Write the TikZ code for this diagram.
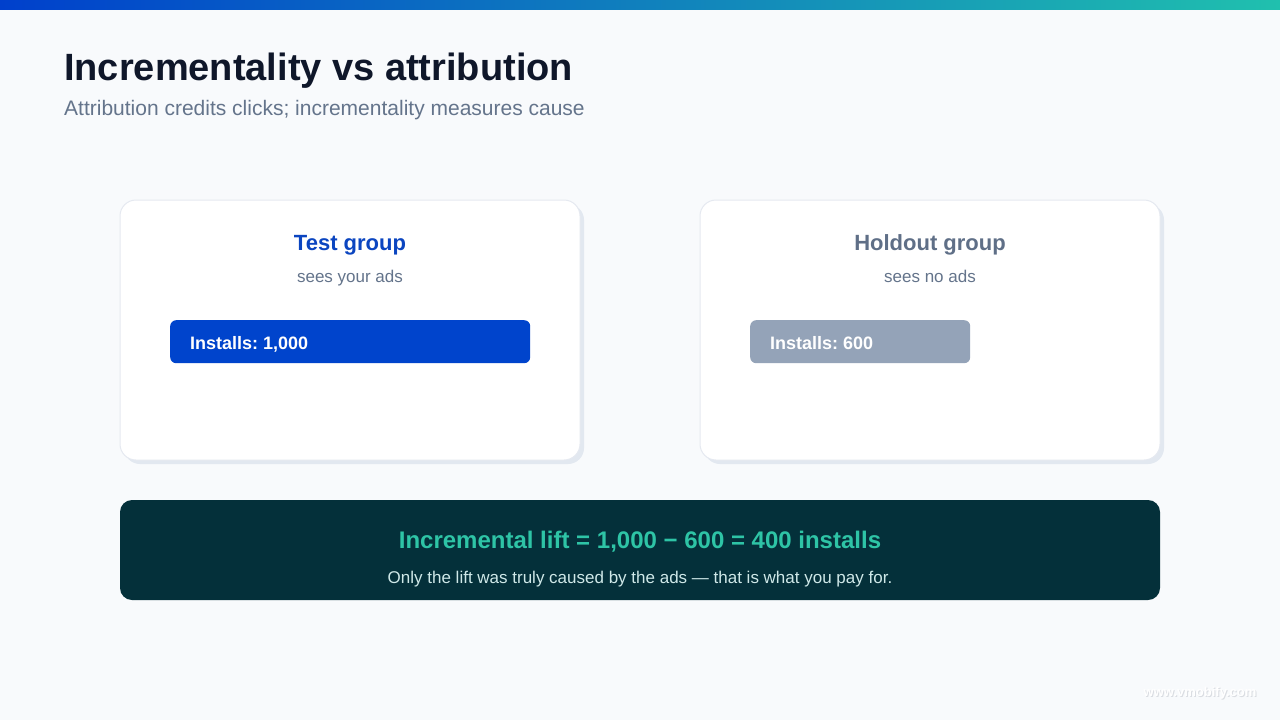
\documentclass[tikz,border=0pt]{standalone}
\usepackage{fontspec}
\setmainfont{Liberation Sans}
\frenchspacing
\definecolor{bg}{HTML}{F8FAFC}
\definecolor{barL}{HTML}{0040CC}
\definecolor{barR}{HTML}{20C0AE}
\definecolor{ttl}{HTML}{0F172A}
\definecolor{sub}{HTML}{64748B}
\definecolor{cardline}{HTML}{E5E9F0}
\definecolor{cardshadow}{HTML}{E2E8F0}
\definecolor{testblue}{HTML}{0B45C0}
\definecolor{barblue}{HTML}{0044CC}
\definecolor{bargray}{HTML}{94A3B8}
\definecolor{holdttl}{HTML}{5F6F87}
\definecolor{darkbox}{HTML}{04303A}
\definecolor{liftteal}{HTML}{2EC4A6}
\definecolor{liftsub}{HTML}{CFE8E8}
\definecolor{wm}{HTML}{DADDE2}
\tikzset{
  card/.style={draw=cardline, line width=1pt, fill=white, rounded corners=16pt, minimum width=460pt, minimum height=260pt, inner sep=0pt},
  cardshade/.style={fill=cardshadow, rounded corners=16pt, minimum width=460pt, minimum height=260pt, inner sep=0pt},
  installbar/.style={rounded corners=6pt, minimum height=43pt, inner sep=0pt, anchor=north west},
  bartext/.style={font=\fontsize{18}{21}\selectfont\bfseries, text=white, anchor=base west, inner sep=0pt},
  grptitle/.style={font=\fontsize{22}{26}\selectfont\bfseries},
  grpsub/.style={font=\fontsize{17}{20}\selectfont, text=sub},
}
\begin{document}
\begin{tikzpicture}[x=1pt,y=-1pt]
\useasboundingbox (0,0) rectangle (1280,720);
\fill[bg] (0,0) rectangle (1280,720);
\shade[left color=barL, right color=barR] (0,0) rectangle (1280,9);
% title
\node[anchor=base west, inner sep=0pt, text=ttl, font=\fontsize{38}{43}\selectfont\bfseries] (title) at (64,80) {Incrementality vs attribution};
\node[anchor=base west, inner sep=0pt, text=sub, font=\fontsize{21}{25}\selectfont] (subtitle) at (64,115) {Attribution credits clicks; incrementality measures cause};
% cards
\node[cardshade] (shA) at (354,334) {};
\node[card] (cardA) at (350,330) {};
\node[cardshade] (shB) at (934,334) {};
\node[card] (cardB) at (930,330) {};
% test group
\node[grptitle, text=testblue, anchor=base] (tA) at (350,250) {Test group};
\node[grpsub, anchor=base] (sA) at (350,282) {sees your ads};
\node[installbar, fill=barblue, minimum width=360pt] (bA) at (170,320) {};
\node[bartext] (iA) at (190,349) {Installs: 1,000};
% holdout group
\node[grptitle, text=holdttl, anchor=base] (tB) at (930,250) {Holdout group};
\node[grpsub, anchor=base] (sB) at (930,282) {sees no ads};
\node[installbar, fill=bargray, minimum width=220pt] (bB) at (750,320) {};
\node[bartext] (iB) at (770,349) {Installs: 600};
% lift box
\node[fill=darkbox, rounded corners=12pt, minimum width=1040pt, minimum height=100pt, inner sep=0pt] (lift) at (640,550) {};
\node[anchor=base, text=liftteal, font=\fontsize{24}{28}\selectfont\bfseries] (liftT) at (640,548) {Incremental lift = 1,000 − 600 = 400 installs};
\node[anchor=base, text=liftsub, font=\fontsize{17}{20}\selectfont] (liftS) at (640,583) {Only the lift was truly caused by the ads — that is what you pay for.};
% watermark
\node[anchor=base, text=wm, font=\fontsize{13}{15}\selectfont\bfseries] (wmk) at (1201,697) {www.vmobify.com};
\node[anchor=base, text=white, font=\fontsize{13}{15}\selectfont\bfseries] (wmk2) at (1200,696) {www.vmobify.com};
\end{tikzpicture}
\end{document}
